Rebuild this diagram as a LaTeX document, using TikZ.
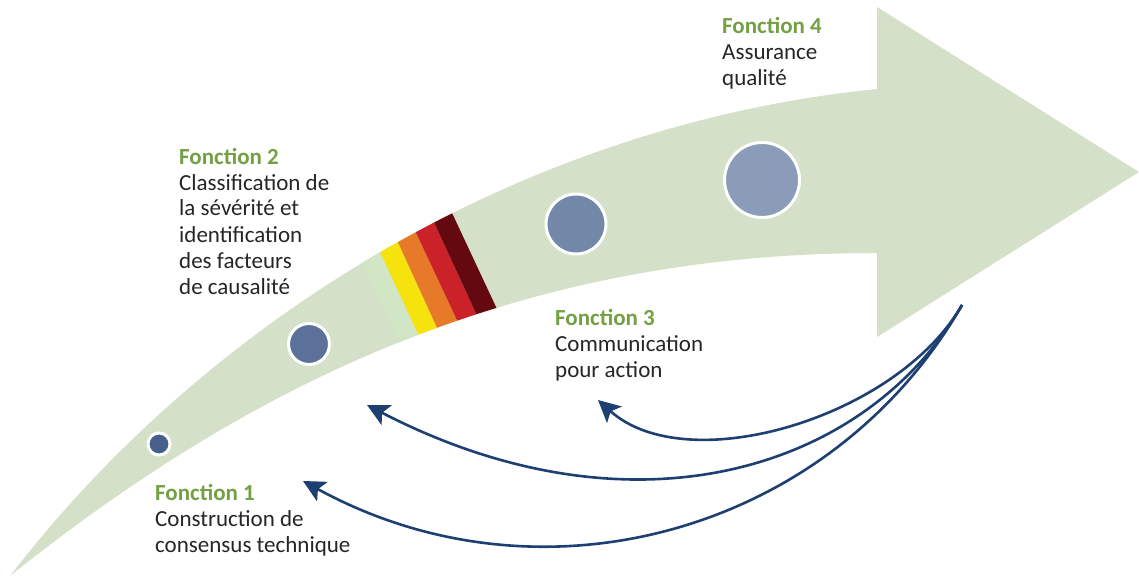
\documentclass[tikz,border=0pt]{standalone}
\usepackage{fontspec}
\setmainfont{Carlito}
\usetikzlibrary{arrows.meta}
\definecolor{arrowfill}{HTML}{D5E0C9}
\definecolor{sLightgreen}{HTML}{D0E6C5}
\definecolor{sYellow}{HTML}{F6E20C}
\definecolor{sOrange}{HTML}{E77A29}
\definecolor{sRed}{HTML}{CB2128}
\definecolor{sDarkred}{HTML}{640910}
\definecolor{headgreen}{HTML}{74A044}
\definecolor{txtgray}{HTML}{262626}
\definecolor{navyline}{HTML}{1D3F72}
\definecolor{dotA}{HTML}{466089}
\definecolor{dotB}{HTML}{5B7199}
\definecolor{dotC}{HTML}{7387A8}
\definecolor{dotD}{HTML}{8B9CB8}
\begin{document}
\begin{tikzpicture}[x=1pt,y=-1pt,
  lbl/.style={anchor=base west, align=left, inner sep=0pt, font=\fontsize{23}{26}\selectfont, text=txtgray},
  dot/.style={circle, draw=white, line width=3pt, inner sep=0pt},
  fb/.style={draw=navyline, line width=2.6pt, -{Stealth[length=22pt,width=22pt,inset=5pt]}}]
\useasboundingbox (0,0) rectangle (1139,577);
% main arrow
\fill[arrowfill] (10,576) .. controls (210,316) and (527,124) .. (877,89) -- (877,7) -- (1139,172) -- (877,337) -- (877,253) .. controls (527,253) and (260,376) .. (10,576) -- cycle;
% colour band
\begin{scope}
\clip (10,576) .. controls (210,316) and (527,124) .. (877,89) -- (877,253) .. controls (527,253) and (260,376) .. (10,576) -- cycle;
\fill[sLightgreen] (352,241) -- (368,226) -- (432,364) -- (411,369) -- cycle;
\fill[sYellow] (368,226) -- (386,216) -- (450,356) -- (432,364) -- cycle;
\fill[sOrange] (386,216) -- (403,205) -- (471,350) -- (450,356) -- cycle;
\fill[sRed] (403,205) -- (421,194) -- (491,346) -- (471,350) -- cycle;
\fill[sDarkred] (421,194) -- (438,183) -- (511,339) -- (491,346) -- cycle;
\end{scope}
% dots
\node[dot, fill=dotA, minimum size=22pt] (d1) at (159,444) {};
\node[dot, fill=dotB, minimum size=41pt] (d2) at (309,344) {};
\node[dot, fill=dotC, minimum size=60pt] (d3) at (576,224) {};
\node[dot, fill=dotD, minimum size=75pt] (d4) at (762,180) {};
% labels (anchored at the baseline of their last line)
\node[lbl] (f1) at (155,552) {{\color{headgreen}\bfseries Fonction 1}\\Construction de\\consensus technique};
\node[lbl] (f2) at (179,294) {{\color{headgreen}\bfseries Fonction 2}\\Classification de\\la sévérité et\\identification\\des facteurs\\de causalité};
\node[lbl] (f3) at (555,377) {{\color{headgreen}\bfseries Fonction 3}\\Communication\\pour action};
\node[lbl] (f4) at (722,85.5) {{\color{headgreen}\bfseries Fonction 4}\\Assurance\\qualité};
% feedback arrows
\coordinate (src) at (962,305);
\coordinate (t3) at (598,400);
\coordinate (t2) at (367,405);
\coordinate (t1) at (303,481);
\draw[fb] (src) .. controls (897,418) and (687,480) .. (t3);
\draw[fb] (src) .. controls (867,470) and (634,543) .. (t2);
\draw[fb] (src) .. controls (832,531) and (544,613) .. (t1);
\end{tikzpicture}
\end{document}
